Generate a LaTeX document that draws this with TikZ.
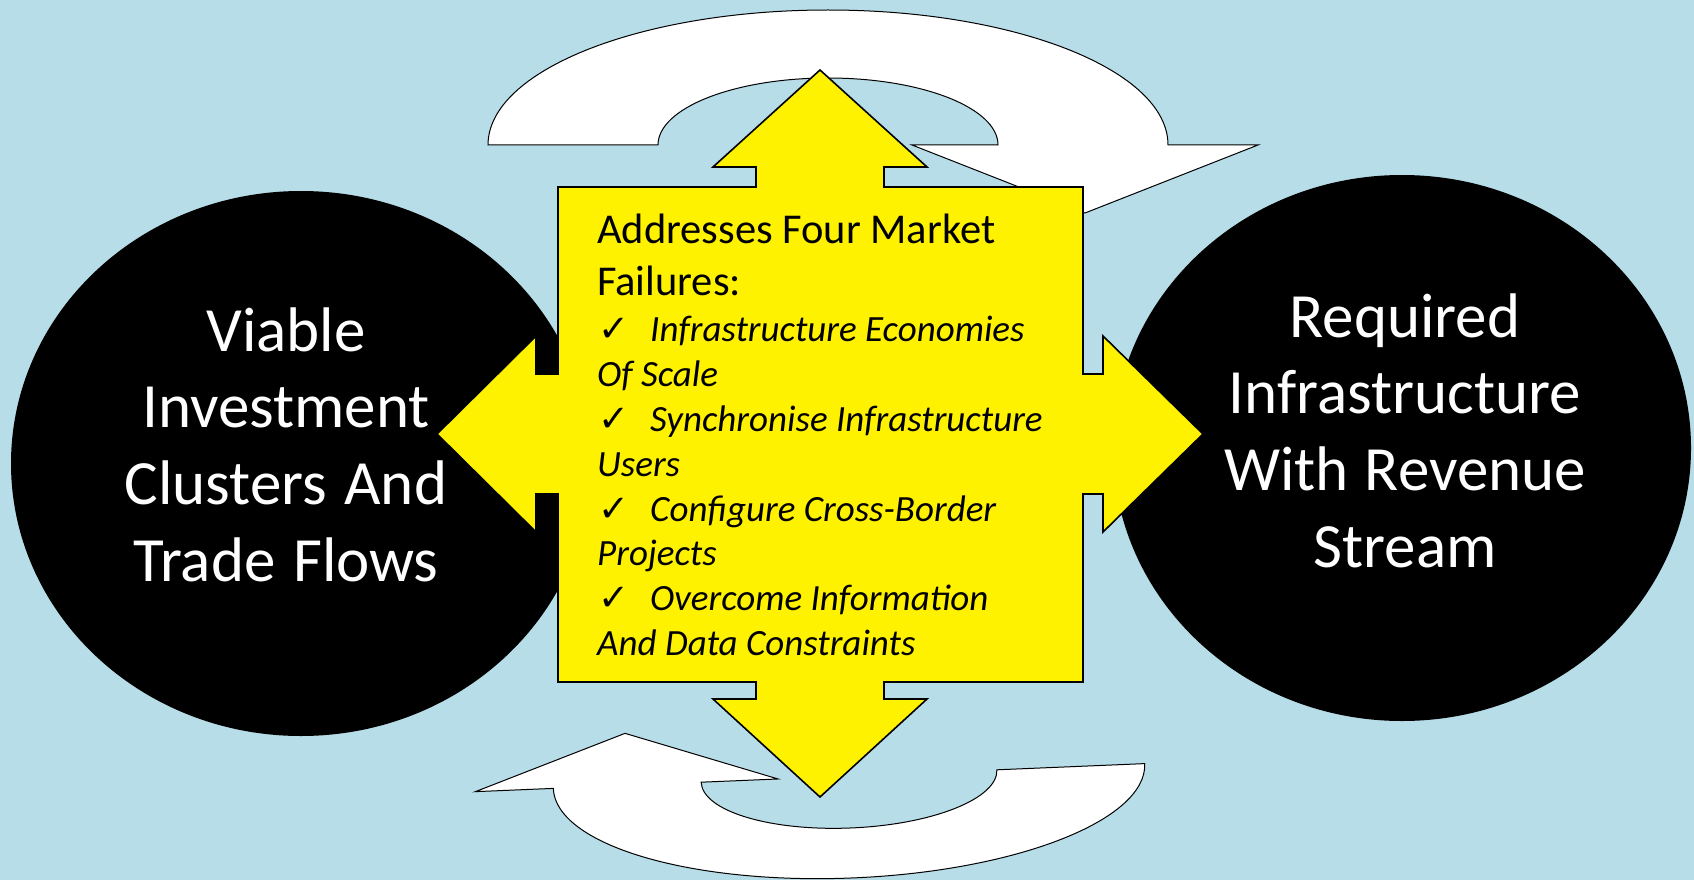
\documentclass[tikz,border=0pt]{standalone}
\usepackage{xcolor}
\usepackage{fontspec}
\setmainfont{Carlito}
\newfontfamily\checkfont{DejaVu Sans}
\usepackage{tikz}
\definecolor{skyback}{RGB}{183,221,232}
\newcommand{\marktick}{\makebox[53pt][l]{\hspace{1pt}\checkfont\upshape ✓}}
\newcommand{\plainspaces}{\spaceskip=0pt\xspaceskip=0pt\relax}

\begin{document}
\begin{tikzpicture}[x=1pt,y=-1pt,
    ring/.style={draw=black, fill=white, line width=1pt, line join=miter},
    cross/.style={draw=black, fill=yellow, line width=1.6pt, line join=miter},
    bubble/.style={fill=black},
    bubbletext/.style={text=white, text width=430pt, align=center, anchor=base,
      inner sep=0pt, font=\fontsize{63}{76.7}\selectfont,
      execute at begin node=\plainspaces}]
        % Fond
        \useasboundingbox (0,0) rectangle (1694,880);
        \fill[skyback] (0,0) rectangle (1694,880);

        % Flèche circulaire du haut
        \begin{scope}[shift={(828,145)}]
            \draw[ring] (-340,0) arc[start angle=180, end angle=0, x radius=340pt, y radius=135pt]
                -- (430,0) -- (257,68) -- (84,0) -- (170,0)
                arc[start angle=0, end angle=180, x radius=170pt, y radius=67pt] -- cycle;
        \end{scope}

        % Flèche circulaire du bas (légèrement tournée)
        \begin{scope}[shift={(849,776)}, rotate=2.4]
            \draw[ring] (296,0) arc[start angle=0, end angle=-180, x radius=296pt, y radius=102pt]
                -- (-374,0) -- (-222,-52) -- (-71,0) -- (-148,0)
                arc[start angle=-180, end angle=0, x radius=148pt, y radius=52pt] -- cycle;
        \end{scope}

        % Les deux ellipses noires
        \fill[bubble] (301,463.5) ellipse[x radius=290pt, y radius=272.5pt];
        \fill[bubble] (1402,448) ellipse[x radius=289pt, y radius=273pt];

        % Croix jaune à quatre flèches
        \draw[cross] (820,70) -- (927,167) -- (884,167) -- (884,187) -- (1083,187)
            -- (1083,374) -- (1103,374) -- (1103,336) -- (1203,434) -- (1103,532)
            -- (1103,494) -- (1083,494) -- (1083,682) -- (884,682) -- (884,699)
            -- (927,699) -- (820,797) -- (713,699) -- (756,699) -- (756,682)
            -- (558,682) -- (558,494) -- (536,494) -- (536,532) -- (437,434)
            -- (536,336) -- (536,374) -- (558,374) -- (558,187) -- (756,187)
            -- (756,167) -- (713,167) -- cycle;

        % Textes
        \node[bubbletext] (viable) at (286,351) {Viable\\Investment\\Clusters And\\Trade Flows};
        \node[bubbletext] (required) at (1405,337) {Required\\Infrastructure\\With Revenue\\Stream};
        \node[anchor=base west, inner sep=0pt, text width=490pt, align=left,
              execute at begin node=\plainspaces] (failures) at (597,243) {%
            \fontsize{42.5}{52}\selectfont Addresses Four Market\\Failures:\par
            \vspace{2pt}
            \fontsize{37}{44.8}\selectfont
            \marktick\textit{Infrastructure Economies}\\\textit{Of Scale}\\
            \marktick\textit{Synchronise Infrastructure}\\\textit{Users}\\
            \marktick\textit{Configure Cross-Border}\\\textit{Projects}\\
            \marktick\textit{Overcome Information}\\\textit{And Data Constraints}\par};
\end{tikzpicture}
\end{document}
